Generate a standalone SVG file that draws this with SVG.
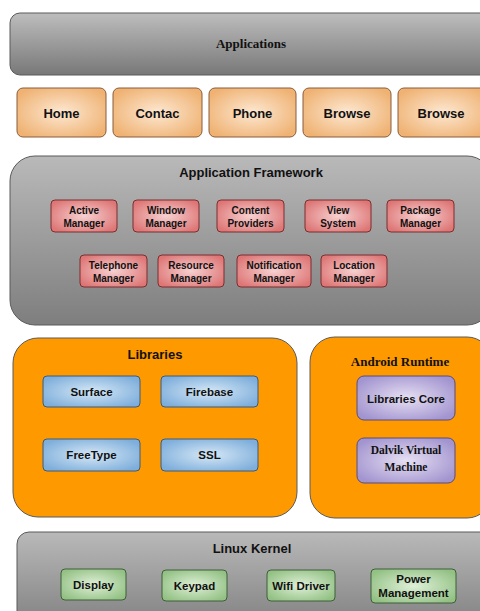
<svg xmlns="http://www.w3.org/2000/svg" width="480" height="611" viewBox="0 0 480 611">
<defs>
<linearGradient id="gGray" x1="0" y1="0" x2="0" y2="1">
<stop offset="0" stop-color="#bdbdbd"/><stop offset="1" stop-color="#787878"/>
</linearGradient>
<linearGradient id="gGray2" x1="0" y1="0" x2="0" y2="1">
<stop offset="0" stop-color="#b9b9b9"/><stop offset="1" stop-color="#7e7e7e"/>
</linearGradient>
<radialGradient id="gOrange" cx="0.5" cy="0.5" r="0.6">
<stop offset="0" stop-color="#fde8d2"/><stop offset="1" stop-color="#efb273"/>
</radialGradient>
<radialGradient id="gRed" cx="0.5" cy="0.5" r="0.6">
<stop offset="0" stop-color="#f7d0d0"/><stop offset="1" stop-color="#de7676"/>
</radialGradient>
<radialGradient id="gBlue" cx="0.5" cy="0.5" r="0.6">
<stop offset="0" stop-color="#d6e8f6"/><stop offset="1" stop-color="#7eaedb"/>
</radialGradient>
<radialGradient id="gPurple" cx="0.5" cy="0.5" r="0.6">
<stop offset="0" stop-color="#e6e0f3"/><stop offset="1" stop-color="#a294cf"/>
</radialGradient>
<radialGradient id="gGreen" cx="0.5" cy="0.5" r="0.6">
<stop offset="0" stop-color="#dff0d8"/><stop offset="1" stop-color="#93c184"/>
</radialGradient>
</defs>
<style>
.layer{stroke:#5a5a5a;stroke-width:1}
.sans{font-family:"Liberation Sans",Arial,sans-serif;font-weight:bold;fill:#111;text-anchor:middle}
.serif{font-family:"Liberation Serif","Times New Roman",serif;font-weight:bold;fill:#111;text-anchor:middle}
.app{fill:url(#gOrange);stroke:#8a5c3a;stroke-width:1}
.fw{fill:url(#gRed);stroke:#7a2e2e;stroke-width:1}
.lib{fill:url(#gBlue);stroke:#3c5a78;stroke-width:1}
.rt{fill:url(#gPurple);stroke:#5a4c7a;stroke-width:1}
.kn{fill:url(#gGreen);stroke:#3e5e3a;stroke-width:1}
</style>
<rect width="480" height="611" fill="#ffffff"/>

<g id="applications">
<rect class="layer" x="10" y="13" width="482" height="62" rx="10" fill="url(#gGray)"/>
<text class="serif" x="251" y="48" font-size="13">Applications</text>
</g>

<g id="app-home"><rect class="app" x="17" y="88" width="89" height="49" rx="6"/><text class="sans" x="61.5" y="118" font-size="13">Home</text></g>
<g id="app-contac"><rect class="app" x="113" y="88" width="89" height="49" rx="6"/><text class="sans" x="157.5" y="118" font-size="13">Contac</text></g>
<g id="app-phone"><rect class="app" x="209" y="88" width="87" height="49" rx="6"/><text class="sans" x="252.5" y="118" font-size="13">Phone</text></g>
<g id="app-browse1"><rect class="app" x="303" y="88" width="88" height="49" rx="6"/><text class="sans" x="347" y="118" font-size="13">Browse</text></g>
<g id="app-browse2"><rect class="app" x="398" y="88" width="90" height="49" rx="6"/><text class="sans" x="441" y="118" font-size="13">Browse</text></g>

<g id="framework">
<rect class="layer" x="10" y="156" width="482" height="169" rx="25" fill="url(#gGray2)"/>
<text class="sans" x="251" y="177" font-size="13">Application Framework</text>
</g>
<g id="fw-active"><rect class="fw" x="51" y="200" width="66" height="32" rx="4"/><text class="sans" x="84" y="214" font-size="10">Active</text><text class="sans" x="84" y="227" font-size="10">Manager</text></g>
<g id="fw-window"><rect class="fw" x="133" y="200" width="66" height="32" rx="4"/><text class="sans" x="166" y="214" font-size="10">Window</text><text class="sans" x="166" y="227" font-size="10">Manager</text></g>
<g id="fw-content"><rect class="fw" x="217" y="200" width="67" height="32" rx="4"/><text class="sans" x="250.5" y="214" font-size="10">Content</text><text class="sans" x="250.5" y="227" font-size="10">Providers</text></g>
<g id="fw-view"><rect class="fw" x="305" y="200" width="66" height="32" rx="4"/><text class="sans" x="338" y="214" font-size="10">View</text><text class="sans" x="338" y="227" font-size="10">System</text></g>
<g id="fw-package"><rect class="fw" x="387" y="200" width="67" height="32" rx="4"/><text class="sans" x="420.5" y="214" font-size="10">Package</text><text class="sans" x="420.5" y="227" font-size="10">Manager</text></g>
<g id="fw-telephone"><rect class="fw" x="80" y="255" width="67" height="32" rx="4"/><text class="sans" x="113.5" y="269" font-size="10">Telephone</text><text class="sans" x="113.5" y="282" font-size="10">Manager</text></g>
<g id="fw-resource"><rect class="fw" x="158" y="255" width="66" height="32" rx="4"/><text class="sans" x="191" y="269" font-size="10">Resource</text><text class="sans" x="191" y="282" font-size="10">Manager</text></g>
<g id="fw-notification"><rect class="fw" x="237" y="255" width="74" height="32" rx="4"/><text class="sans" x="274" y="269" font-size="10">Notification</text><text class="sans" x="274" y="282" font-size="10">Manager</text></g>
<g id="fw-location"><rect class="fw" x="321" y="255" width="66" height="32" rx="4"/><text class="sans" x="354" y="269" font-size="10">Location</text><text class="sans" x="354" y="282" font-size="10">Manager</text></g>

<g id="libraries">
<rect class="layer" x="13" y="338" width="284" height="179" rx="25" fill="#ff9900"/>
<text class="sans" x="155" y="359" font-size="13">Libraries</text>
</g>
<g id="lib-surface"><rect class="lib" x="43" y="376" width="97" height="31" rx="4"/><text class="sans" x="91.5" y="396" font-size="11.5">Surface</text></g>
<g id="lib-firebase"><rect class="lib" x="161" y="376" width="97" height="31" rx="4"/><text class="sans" x="209.5" y="396" font-size="11.5">Firebase</text></g>
<g id="lib-freetype"><rect class="lib" x="43" y="439" width="97" height="32" rx="4"/><text class="sans" x="91.5" y="459" font-size="11.5">FreeType</text></g>
<g id="lib-ssl"><rect class="lib" x="161" y="439" width="97" height="32" rx="4"/><text class="sans" x="209.5" y="459" font-size="11.5">SSL</text></g>

<g id="android-runtime">
<rect class="layer" x="310" y="337" width="182" height="181" rx="25" fill="#ff9900"/>
<text class="serif" x="400" y="366" font-size="13">Android Runtime</text>
</g>
<g id="rt-core"><rect class="rt" x="357" y="376" width="98" height="44" rx="7"/><text class="sans" x="406" y="403" font-size="11.5">Libraries Core</text></g>
<g id="rt-dalvik"><rect class="rt" x="357" y="438" width="98" height="45" rx="7"/><text class="serif" x="406" y="454" font-size="11.5">Dalvik Virtual</text><text class="serif" x="406" y="471" font-size="11.5">Machine</text></g>

<g id="linux-kernel">
<rect class="layer" x="17" y="532" width="475" height="100" rx="12" fill="url(#gGray2)"/>
<text class="sans" x="252" y="553" font-size="13">Linux Kernel</text>
</g>
<g id="kn-display"><rect class="kn" x="61" y="569" width="65" height="31" rx="4"/><text class="sans" x="93.5" y="589" font-size="11.5">Display</text></g>
<g id="kn-keypad"><rect class="kn" x="162" y="570" width="65" height="31" rx="4"/><text class="sans" x="194.5" y="590" font-size="11.5">Keypad</text></g>
<g id="kn-wifi"><rect class="kn" x="267" y="570" width="68" height="31" rx="4"/><text class="sans" x="301" y="590" font-size="11.5">Wifi Driver</text></g>
<g id="kn-power"><rect class="kn" x="371" y="569" width="85" height="34" rx="4"/><text class="sans" x="413.5" y="583" font-size="11.5">Power</text><text class="sans" x="413.5" y="597" font-size="11.5">Management</text></g>

<g id="connectors"/>
</svg>
